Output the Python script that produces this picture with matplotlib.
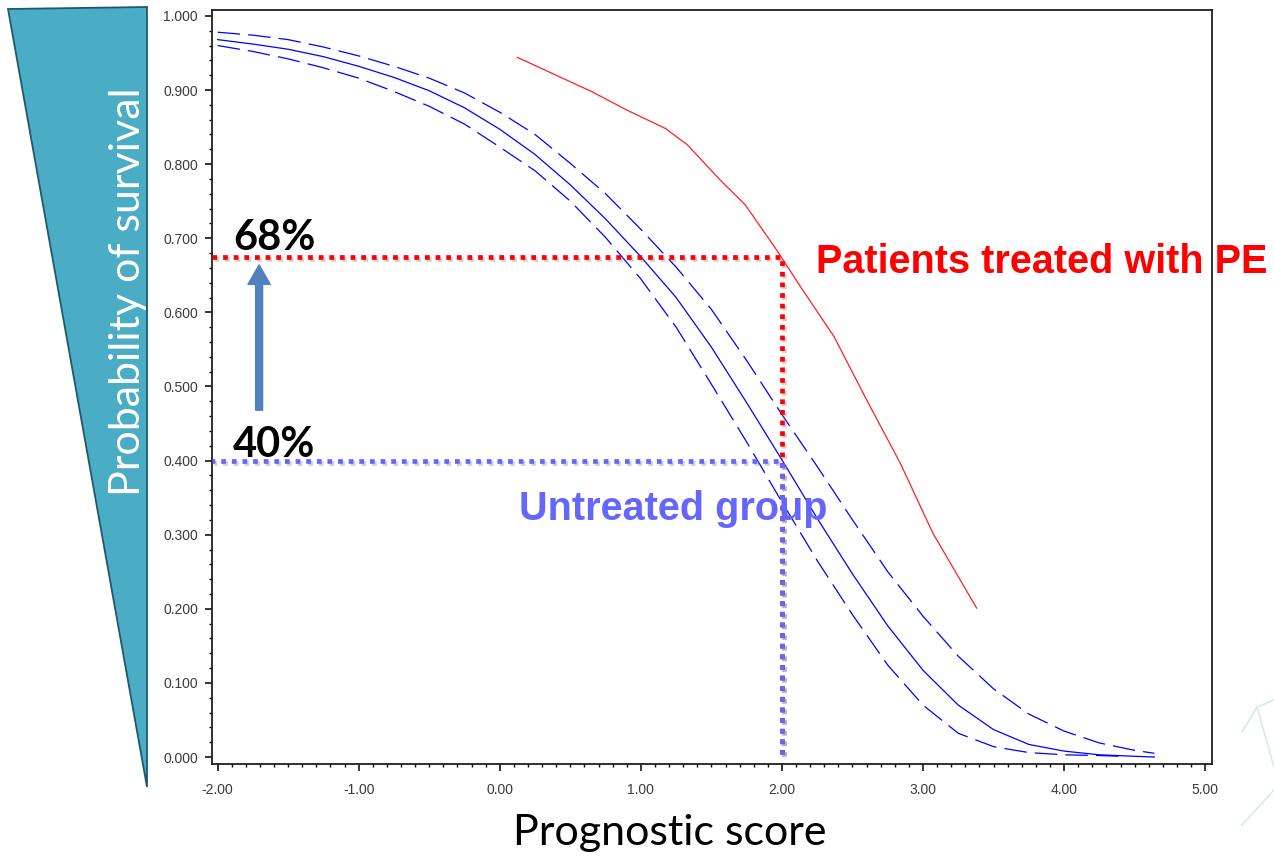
import numpy as np
import matplotlib
matplotlib.use("Agg")
import matplotlib.pyplot as plt
from matplotlib.ticker import MultipleLocator, FormatStrFormatter
from matplotlib.patches import Polygon
from matplotlib.lines import Line2D
import matplotlib.patheffects as pe

# --- data ---
# untreated group: logistic fit with confidence band
score = [-2.0, -1.75, -1.5, -1.25, -1.0, -0.75, -0.5, -0.25, 0.0, 0.25, 0.5, 0.75,
         1.0, 1.25, 1.5, 1.75, 2.0, 2.25, 2.5, 2.75, 3.0, 3.25, 3.5, 3.75, 4.0, 4.25,
         4.5, 4.64]
surv_mid = [0.968, 0.962, 0.955, 0.945, 0.932, 0.917, 0.899, 0.876, 0.847, 0.813,
            0.772, 0.726, 0.675, 0.620, 0.553, 0.478, 0.401, 0.322, 0.247, 0.177,
            0.117, 0.070, 0.037, 0.017, 0.008, 0.003, 0.001, 0.000]
surv_hi = [0.978, 0.974, 0.968, 0.958, 0.946, 0.932, 0.916, 0.896, 0.870, 0.840,
           0.801, 0.760, 0.712, 0.661, 0.604, 0.535, 0.462, 0.392, 0.320, 0.250,
           0.190, 0.136, 0.092, 0.058, 0.035, 0.019, 0.009, 0.005]
score_lo = [-2.0, -1.75, -1.5, -1.25, -1.0, -0.75, -0.5, -0.25, 0.0, 0.25, 0.5, 0.75,
            1.0, 1.25, 1.5, 1.75, 2.0, 2.25, 2.5, 2.75, 3.0, 3.25, 3.5, 3.75, 4.0,
            4.25, 4.4]
surv_lo = [0.960, 0.952, 0.942, 0.930, 0.916, 0.898, 0.878, 0.854, 0.823, 0.791,
           0.750, 0.701, 0.645, 0.580, 0.503, 0.425, 0.344, 0.265, 0.192, 0.124,
           0.070, 0.032, 0.014, 0.006, 0.003, 0.002, 0.001]

# patients treated with PE
score_pe = [0.125, 0.65, 0.9, 1.175, 1.33, 1.56, 1.74, 1.97, 2.13, 2.37, 2.6, 2.84,
            3.07, 3.38]
surv_pe = [0.944, 0.898, 0.873, 0.848, 0.826, 0.779, 0.745, 0.682, 0.635, 0.567,
           0.482, 0.396, 0.302, 0.201]

# reading at score 2.0
x_read = 2.0
p_pe = 0.675
p_untreated = 0.40

fig = plt.figure(figsize=(12.74, 8.59), dpi=100)
ax = fig.add_axes([0.1664, 0.1106, 0.7849, 0.8778])

# curves
ax.plot(score, surv_mid, color='#0000FF', lw=0.9)
ax.plot(score, surv_hi, color='#0000FF', lw=0.9, ls=(0, (18, 6.5)))
ax.plot(score_lo, surv_lo, color='#0000FF', lw=0.9, ls=(0, (18, 6.5)))
ax.plot(score_pe, surv_pe, color='#FF2020', lw=0.9)

# dotted guide lines
shadow = [pe.SimpleLineShadow(offset=(1.5, -1.5), shadow_color='#808080', alpha=0.35),
          pe.Normal()]
xmin = -2.04
ax.plot([xmin, x_read, x_read], [p_pe, p_pe, 0], color='#FF0000', lw=3.4,
        ls=(0, (1.0, 1.25)), path_effects=shadow, zorder=4)
ax.plot([xmin, x_read, x_read], [p_untreated, p_untreated, 0], color='#6666FF', lw=3.4,
        ls=(0.4, (1.0, 1.25)), path_effects=shadow, zorder=5)

# arrow between the two readings
ax.annotate('', xy=(-1.706, 0.664), xytext=(-1.706, 0.468),
            arrowprops=dict(arrowstyle='simple,head_width=1.6,head_length=1.4,tail_width=0.5',
                            mutation_scale=10, color='#4F81BD', shrinkA=0, shrinkB=0))

# annotations
ax.text(-1.89, 0.684, '68%', fontsize=30, fontweight='bold', family='Lato',
        color='black', va='baseline', ha='left')
ax.text(-1.89, 0.405, '40%', fontsize=30, fontweight='bold', family='Lato',
        color='black', va='baseline', ha='left')
ax.text(2.243, 0.653, 'Patients treated with PE', fontsize=28.5, fontweight='bold',
        family='Liberation Sans', color='#FF0000', va='baseline', ha='left', clip_on=False)
ax.text(0.134, 0.320, 'Untreated group', fontsize=28.5, fontweight='bold',
        family='Liberation Sans', color='#6666FF', va='baseline', ha='left', zorder=6)

# axes styling
ax.set_xlim(xmin, 5.048)
ax.set_ylim(-0.0094, 1.008)
ax.xaxis.set_major_locator(MultipleLocator(1.0))
ax.xaxis.set_minor_locator(MultipleLocator(0.1))
ax.yaxis.set_major_locator(MultipleLocator(0.1))
ax.yaxis.set_minor_locator(MultipleLocator(0.02))
ax.xaxis.set_major_formatter(FormatStrFormatter('%.2f'))
ax.yaxis.set_major_formatter(FormatStrFormatter('%.3f'))
ax.tick_params(which='major', direction='out', length=5, width=1.1, labelsize=10,
               labelcolor='#3a3a3a')
ax.tick_params(which='minor', direction='out', length=2.5, width=1.0)
ax.tick_params(axis='x', which='major', pad=9)
ax.tick_params(axis='y', which='major', pad=5)
for lab in ax.get_xticklabels() + ax.get_yticklabels():
    lab.set_family('Liberation Sans')
for sp in ax.spines.values():
    sp.set_linewidth(1.3)
    sp.set_color('#202020')

# teal wedge with the y label
tri = Polygon([(8 / 1274, 1 - 9 / 859), (147 / 1274, 1 - 7 / 859), (147 / 1274, 1 - 787 / 859)],
              closed=True, facecolor='#4BACC6', edgecolor='#1F5A6A', lw=1.3,
              transform=fig.transFigure)
fig.add_artist(tri)
fig.text(140 / 1274, 1 - 292 / 859, 'Probability of survival', rotation=90,
         rotation_mode='anchor', ha='center', va='baseline', color='white',
         fontsize=31, family='Lato')

fig.text(670 / 1274, 1 - 845 / 859, 'Prognostic score', ha='center', va='baseline',
         color='black', fontsize=31, family='Lato')

# faint slide decoration, bottom right
deco = [([1242, 1257, 1274], [732, 707, 700]),
        ([1257, 1274], [707, 767]),
        ([1242, 1274], [825, 790])]
for xs, ys in deco:
    fig.add_artist(Line2D([v / 1274 for v in xs], [1 - v / 859 for v in ys],
                          color='#D6EAF0', lw=1.2, transform=fig.transFigure))

fig.savefig('out.png', dpi=100)
